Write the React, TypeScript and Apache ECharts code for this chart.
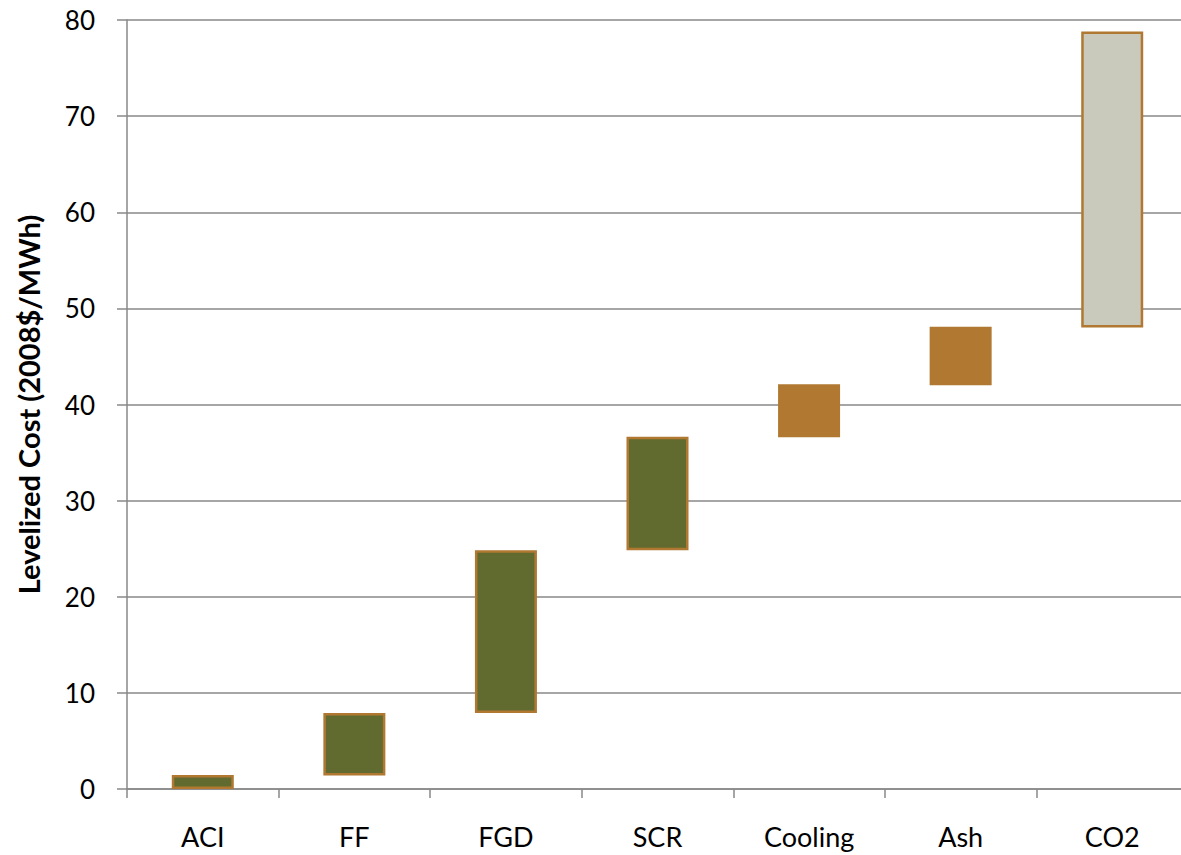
import React, { useEffect, useRef } from "react";
import * as echarts from "echarts";

const categories = ["ACI", "FF", "FGD", "SCR", "Cooling", "Ash", "CO2"];
const lows = [0, 1.4, 7.9, 24.85, 36.6, 42.0, 48.0];
const highs = [1.45, 7.9, 24.85, 36.65, 42.1, 48.1, 78.8];
const yTicks = [0, 10, 20, 30, 40, 50, 60, 70, 80];
const yTitle = "Levelized Cost (2008$/MWh)";

const GREEN = "#626b2f";
const ORANGE = "#b07830";
const GREY = "#c9c9bc";
const fills = [GREEN, GREEN, GREEN, GREEN, ORANGE, ORANGE, GREY];
const borders = [ORANGE, ORANGE, ORANGE, ORANGE, ORANGE, ORANGE, ORANGE];

export default function App() {
  const ref = useRef<HTMLDivElement>(null);
  useEffect(() => {
    if (!ref.current) return;
    const chart = echarts.init(ref.current, null, { renderer: "svg" });
    const font = "Lato, 'Open Sans', sans-serif";
    chart.setOption({
      animation: false,
      backgroundColor: "#ffffff",
      grid: { left: 127, right: 0, top: 20, bottom: 66, containLabel: false },
      xAxis: {
        type: "category",
        data: categories,
        axisLine: { show: true, lineStyle: { color: "#888888", width: 1.5 } },
        axisTick: { show: true, length: 9, lineStyle: { color: "#888888", width: 1.5 } },
        axisLabel: { color: "#000000", fontSize: 27, fontFamily: font, margin: 34 },
        splitLine: { show: false },
      },
      yAxis: {
        type: "value",
        min: yTicks[0],
        max: yTicks[yTicks.length - 1],
        interval: 10,
        name: yTitle,
        nameLocation: "middle",
        nameGap: 84,
        nameRotate: 90,
        nameTextStyle: { color: "#000000", fontSize: 29, fontWeight: "bold", fontFamily: font },
        axisLine: { show: true, lineStyle: { color: "#888888", width: 1.5 } },
        axisTick: { show: true, length: 10, lineStyle: { color: "#888888", width: 1.5 } },
        axisLabel: { color: "#000000", fontSize: 26, fontFamily: font, margin: 32 },
        splitLine: { show: true, lineStyle: { color: "#888888", width: 1.5 } },
      },
      series: [
        {
          type: "bar",
          stack: "w",
          barWidth: 62,
          silent: true,
          itemStyle: { color: "transparent" },
          data: lows,
        },
        {
          type: "bar",
          stack: "w",
          barWidth: 62,
          data: highs.map((h, i) => ({
            value: +(h - lows[i]).toFixed(3),
            itemStyle: {
              color: fills[i],
              borderColor: borders[i],
              borderWidth: i === 4 || i === 5 ? 0 : 2.5,
            },
          })),
        },
      ],
    });
    return () => chart.dispose();
  }, []);
  return (
    <div
      ref={ref}
      style={{ position: "fixed", left: 0, top: 0, width: 1188, height: 855, background: "#fff" }}
    />
  );
}
